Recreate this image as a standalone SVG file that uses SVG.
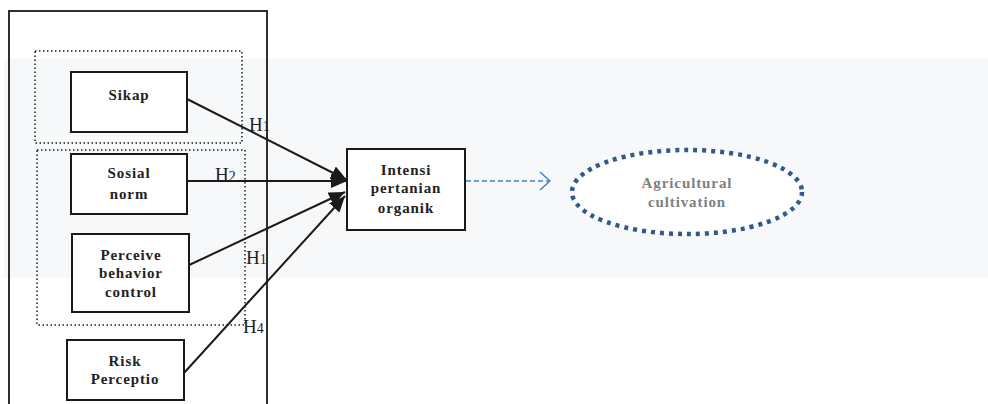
<svg xmlns="http://www.w3.org/2000/svg" width="988" height="404" viewBox="0 0 988 404">
  <defs>
    <marker id="arrow" viewBox="0 0 16 14" refX="16" refY="7" markerWidth="16" markerHeight="14" markerUnits="userSpaceOnUse" orient="auto">
      <path d="M0,0 L16,7 L0,14 z" fill="#1a1a1a"/>
    </marker>
    <marker id="open" viewBox="0 0 12 20" refX="11" refY="10" markerWidth="12" markerHeight="20" markerUnits="userSpaceOnUse" orient="auto">
      <path d="M1,1 L11,10 L1,19" fill="none" stroke="#4a7ec4" stroke-width="1.5"/>
    </marker>
    <style>
      .box { fill: #ffffff; stroke: #1a1a1a; stroke-width: 2; }
      .group { fill: none; stroke: #1a1a1a; stroke-width: 1.5; stroke-dasharray: 1.5 2.5; }
      .lbl { font-family: "Liberation Serif", "DejaVu Serif", serif; font-weight: bold; font-size: 15px; fill: #222222; text-anchor: middle; letter-spacing: 0.9px; }
      .hyp { font-family: "Liberation Serif", "DejaVu Serif", serif; font-size: 19px; fill: #222222; }
      .sub { font-size: 14px; }
      .edge { stroke: #1a1a1a; stroke-width: 2; fill: none; marker-end: url(#arrow); }
    </style>
  </defs>

  <!-- light background band -->
  <rect x="4" y="59" width="984" height="219" fill="#f7f8fa"/>

  <!-- outer frame of predictors -->
  <rect x="9" y="11" width="258" height="420" fill="none" stroke="#1a1a1a" stroke-width="1.8"/>

  <!-- dotted groupings -->
  <rect class="group" x="35" y="51" width="207" height="92"/>
  <rect class="group" x="37" y="150" width="208" height="175"/>

  <g id="connectors">
    <line class="edge" x1="187" y1="99" x2="347" y2="180"/>
    <line class="edge" x1="187" y1="181" x2="347" y2="181"/>
    <line class="edge" x1="187" y1="266" x2="345" y2="192"/>
    <line class="edge" x1="184" y1="373" x2="345" y2="196"/>
    <line x1="466" y1="181" x2="550" y2="181" stroke="#4a7ec4" stroke-width="1.5" stroke-dasharray="5 3" marker-end="url(#open)"/>
  </g>

  <g id="hypotheses">
    <text class="hyp" x="249" y="131">H<tspan class="sub">1</tspan></text>
    <text class="hyp" x="215" y="181">H<tspan class="sub">2</tspan></text>
    <text class="hyp" x="246" y="264">H<tspan class="sub">1</tspan></text>
    <text class="hyp" x="243" y="333">H<tspan class="sub">4</tspan></text>
  </g>

  <g id="sikap">
    <rect class="box" x="71" y="72" width="116" height="60"/>
    <text class="lbl" x="129" y="100">Sikap</text>
  </g>

  <g id="sosial-norm">
    <rect class="box" x="71" y="154" width="116" height="60"/>
    <text class="lbl" x="129" y="178">Sosial</text>
    <text class="lbl" x="129" y="199">norm</text>
  </g>

  <g id="perceive-behavior-control">
    <rect class="box" x="72" y="234" width="117" height="78"/>
    <text class="lbl" x="131" y="260">Perceive</text>
    <text class="lbl" x="131" y="278">behavior</text>
    <text class="lbl" x="131" y="297">control</text>
  </g>

  <g id="risk-perception">
    <rect class="box" x="67" y="340" width="117" height="60"/>
    <text class="lbl" x="125" y="366">Risk</text>
    <text class="lbl" x="125" y="384">Perceptio</text>
  </g>

  <g id="intensi">
    <rect class="box" x="347" y="149" width="118" height="81"/>
    <text class="lbl" x="406" y="175">Intensi</text>
    <text class="lbl" x="406" y="193">pertanian</text>
    <text class="lbl" x="406" y="213">organik</text>
  </g>

  <g id="agricultural-cultivation">
    <ellipse cx="687" cy="192" rx="115" ry="42" fill="#ffffff" stroke="#33598c" stroke-width="4.5" stroke-dasharray="4 5"/>
    <text class="lbl" x="687" y="188" style="fill:#808080">Agricultural</text>
    <text class="lbl" x="687" y="207" style="fill:#808080">cultivation</text>
  </g>
</svg>
